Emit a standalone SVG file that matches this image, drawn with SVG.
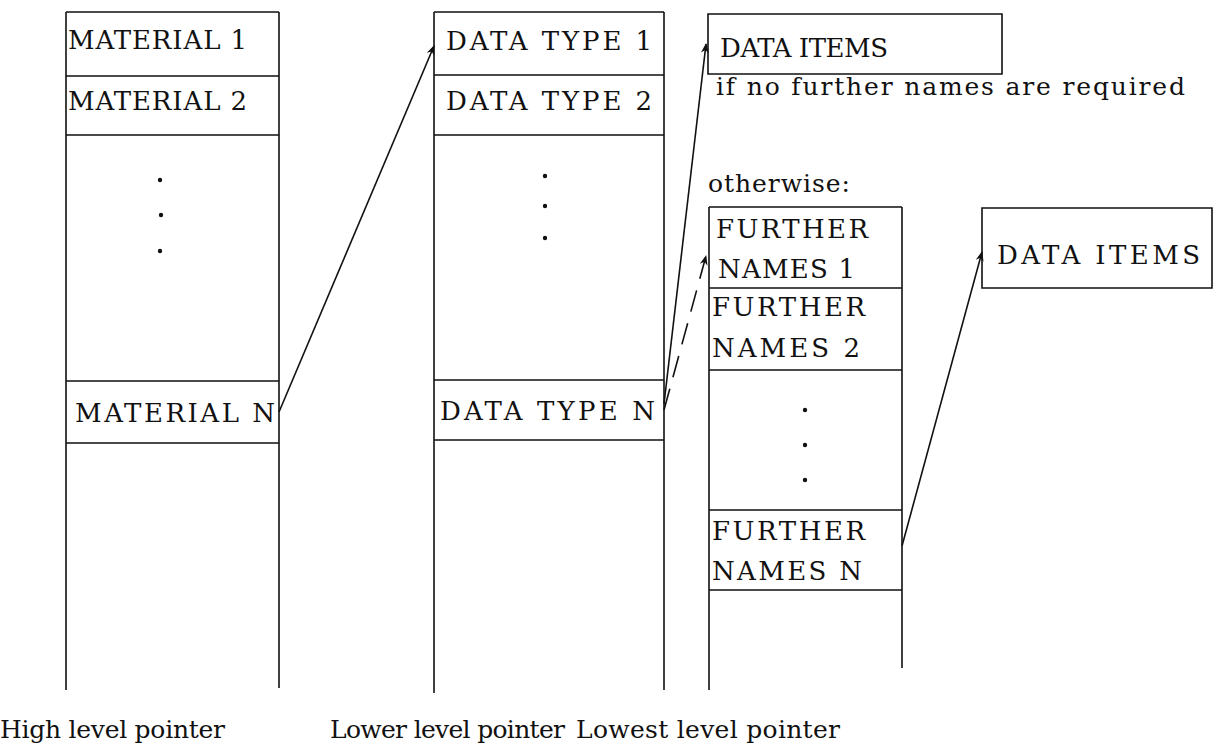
<svg xmlns="http://www.w3.org/2000/svg" width="1216" height="746" viewBox="0 0 1216 746">
<style>
.l{stroke:#111;stroke-width:1.6;fill:none}
.t{font-family:"DejaVu Serif","Liberation Serif",serif;font-size:26px;fill:#111}
.b{font-family:"DejaVu Serif","Liberation Serif",serif;font-size:25px;fill:#111}
.d{fill:#111}
</style>
<defs>
<marker id="ah" viewBox="0 0 10 10" refX="9" refY="5" markerWidth="10" markerHeight="10" markerUnits="userSpaceOnUse" orient="auto"><path d="M0,1 L10,5 L0,9 L3,5 Z" fill="#111"/></marker>
</defs>
<rect width="1216" height="746" fill="#fff"/>
<g id="col1">
<path class="l" d="M66,12 V690 M279,12 V688 M66,12 H279 M66,76 H279 M66,135 H279 M66,381 H279 M66,443 H279"/>
<text class="t" x="68" y="49" textLength="179" lengthAdjust="spacing">MATERIAL 1</text>
<text class="t" x="68" y="110" textLength="179" lengthAdjust="spacing">MATERIAL 2</text>
<text class="t" x="75" y="422" textLength="200" lengthAdjust="spacing">MATERIAL N</text>
<circle class="d" cx="160" cy="180" r="2.2"/><circle class="d" cx="161" cy="215" r="2.2"/><circle class="d" cx="160" cy="251" r="2.2"/>
</g>
<g id="col2">
<path class="l" d="M434,12 V693 M664,12 V690 M434,12 H664 M434,75 H664 M434,135 H664 M434,380 H664 M434,440 H664"/>
<text class="t" x="446" y="50" textLength="206" lengthAdjust="spacing">DATA TYPE 1</text>
<text class="t" x="446" y="110" textLength="206" lengthAdjust="spacing">DATA TYPE 2</text>
<text class="t" x="440" y="420" textLength="215" lengthAdjust="spacing">DATA TYPE N</text>
<circle class="d" cx="545" cy="176" r="2.2"/><circle class="d" cx="545" cy="206" r="2.2"/><circle class="d" cx="545" cy="238" r="2.2"/>
</g>
<g id="items1">
<path class="l" d="M708,14 H1002 V74 H708 Z"/>
<text class="t" x="720" y="57" textLength="168" lengthAdjust="spacing">DATA ITEMS</text>
<text class="b" x="716" y="95" textLength="469" lengthAdjust="spacing">if no further names are required</text>
<text class="b" x="708" y="192" textLength="142" lengthAdjust="spacing">otherwise:</text>
</g>
<g id="col3">
<path class="l" d="M709,207 V690 M902,207 V668 M709,207 H902 M709,288 H902 M709,370 H902 M709,510 H902 M709,590 H902"/>
<text class="t" x="716" y="238" textLength="152" lengthAdjust="spacing">FURTHER</text>
<text class="t" x="718" y="278" textLength="137" lengthAdjust="spacing">NAMES  1</text>
<text class="t" x="712" y="316" textLength="153" lengthAdjust="spacing">FURTHER</text>
<text class="t" x="712" y="357" textLength="148" lengthAdjust="spacing">NAMES  2</text>
<text class="t" x="712" y="540" textLength="153" lengthAdjust="spacing">FURTHER</text>
<text class="t" x="712" y="580" textLength="150" lengthAdjust="spacing">NAMES  N</text>
<circle class="d" cx="805" cy="410" r="2.2"/><circle class="d" cx="805" cy="445" r="2.2"/><circle class="d" cx="805" cy="480" r="2.2"/>
</g>
<g id="items2">
<path class="l" d="M982,208 H1212 V288 H982 Z"/>
<text class="t" x="997" y="264" textLength="203" lengthAdjust="spacing">DATA  ITEMS</text>
</g>
<g id="connectors">
<line class="l" x1="279" y1="412" x2="434" y2="46" marker-end="url(#ah)"/>
<line class="l" x1="664" y1="404" x2="706" y2="44" marker-end="url(#ah)"/>
<line class="l" x1="664" y1="410" x2="706" y2="256" stroke-dasharray="22,12" marker-end="url(#ah)"/>
<line class="l" x1="902" y1="546" x2="982" y2="252" marker-end="url(#ah)"/>
</g>
<g id="labels">
<text class="b" x="0" y="738" textLength="225" lengthAdjust="spacing">High level pointer</text>
<text class="b" x="330" y="738" textLength="235" lengthAdjust="spacing">Lower level pointer</text>
<text class="b" x="576" y="738" textLength="264" lengthAdjust="spacing">Lowest level pointer</text>
</g>
</svg>
